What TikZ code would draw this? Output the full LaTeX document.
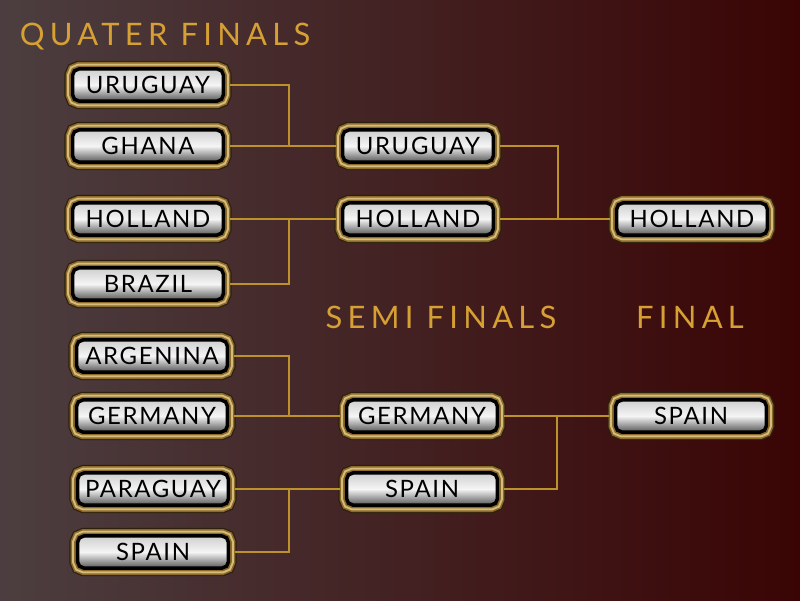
\documentclass[tikz,border=0pt]{standalone}
\usepackage{fontspec}
\setmainfont{Lato}
\newfontfamily\btnfont[LetterSpace=7]{Lato}
\newfontfamily\headfont[LetterSpace=17]{Lato}
\usetikzlibrary{calc}
\definecolor{bgleft}{RGB}{76,62,64}
\definecolor{bgright}{RGB}{58,4,4}
\definecolor{goldline}{RGB}{190,146,42}
\definecolor{goldlight}{RGB}{214,188,124}
\definecolor{golddark}{RGB}{140,106,42}
\definecolor{headgold}{RGB}{214,160,52}

\begin{document}
\begin{tikzpicture}[x=0.025cm,y=-0.025cm,
team/.style={rounded corners=4pt,minimum width=3.72cm,minimum height=0.75cm,inner sep=0pt,outer sep=0.2cm,
  top color=black!18,bottom color=black!62,middle color=black!4,draw=black,line width=1pt,
  font=\btnfont\fontsize{17}{17}\selectfont,
  preaction={draw=black!70!golddark,line width=0.46cm},
  preaction={draw=golddark,line width=0.40cm},
  preaction={draw=goldlight,line width=0.32cm},
  preaction={draw=golddark,line width=0.22cm},
  preaction={draw=black,line width=0.14cm}},
wire/.style={draw=goldline,line width=1.3pt},
heading/.style={text=headgold,font=\headfont\fontsize{22}{22}\selectfont}]
\useasboundingbox(0,0)rectangle(800,600);
\shade[left color=bgleft,right color=bgright](0,0)rectangle(800,600);
\node[heading](hq)at(165,37){QUATER FINALS};
\node[heading](hs)at(441,317){SEMI FINALS};
\node[heading](hf)at(690,317){FINAL};
\node[team](q1)at(148,85){URUGUAY};
\node[team](q2)at(148,146){GHANA};
\node[team](q3)at(148,219){HOLLAND};
\node[team](q4)at(148,284){BRAZIL};
\node[team](q5)at(152,356){ARGENINA};
\node[team](q6)at(152,416){GERMANY};
\node[team](q7)at(153,489){PARAGUAY};
\node[team](q8)at(153,552){SPAIN};
\node[team](s1)at(418,146){URUGUAY};
\node[team](s2)at(418,219){HOLLAND};
\node[team](s3)at(422,416){GERMANY};
\node[team](s4)at(422,489){SPAIN};
\node[team](f1)at(692,219){HOLLAND};
\node[team](f2)at(691,416){SPAIN};
\coordinate(j1)at(289,146);
\coordinate(j2)at(289,219);
\coordinate(j3)at(289,416);
\coordinate(j4)at(289,489);
\coordinate(j5)at(558,219);
\coordinate(j6)at(557,416);
\draw[wire](q1.east)-|(j1);
\draw[wire](q2.east)--(s1.west);
\draw[wire](q4.east)-|(j2);
\draw[wire](q3.east)--(s2.west);
\draw[wire](q5.east)-|(j3);
\draw[wire](q6.east)--(s3.west);
\draw[wire](q8.east)-|(j4);
\draw[wire](q7.east)--(s4.west);
\draw[wire](s1.east)-|(j5);
\draw[wire](s2.east)--(f1.west);
\draw[wire](s4.east)-|(j6);
\draw[wire](s3.east)--(f2.west);
\end{tikzpicture}
\end{document}
